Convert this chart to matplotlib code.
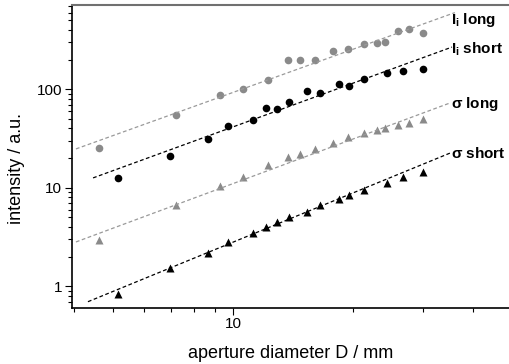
import numpy as np
import matplotlib.pyplot as plt

plt.rcParams['font.family'] = ['Liberation Sans', 'DejaVu Sans']
plt.rcParams['mathtext.fontset'] = 'custom'
plt.rcParams['mathtext.rm'] = 'Liberation Sans'
plt.rcParams['mathtext.bf'] = 'Liberation Sans:bold'

# aperture diameters (mm)
d_long = [4.62, 7.18, 9.28, 10.61, 12.26, 13.76, 14.72, 16.05, 17.84, 19.39,
          21.34, 22.93, 24.08, 25.87, 27.61, 29.99]
d_short = [5.16, 6.95, 8.64, 9.73, 11.24, 12.10, 12.91, 13.84, 15.30, 16.52,
           18.47, 19.56, 21.34, 24.28, 26.72, 29.99]

# intensities
Ii_long = [25.2, 54.8, 88.2, 101.4, 124.3, 198.4, 198.4, 198.4, 246.6, 256.6,
           288.4, 297.2, 300.0, 393.5, 406.5, 370.3]
Ii_short = [12.66, 20.9, 31.5, 42.4, 48.8, 64.1, 63.1, 73.8, 96.8, 91.1,
            112.4, 108.0, 128.1, 147.4, 153.4, 159.6]
sig_long = [2.95, 6.69, 10.4, 12.96, 17.04, 20.7, 22.0, 24.8, 28.3, 32.6,
            35.7, 38.6, 40.8, 43.4, 45.8, 49.6]
sig_short = [0.83, 1.52, 2.19, 2.82, 3.50, 4.03, 4.46, 5.09, 5.72, 6.69,
             7.70, 8.45, 9.50, 11.27, 12.96, 14.47]

# fit lines (end points)
fit_Ii_long = ([4.04, 36.0], [24.8, 600])
fit_Ii_short = ([4.46, 35.4], [12.6, 268])
fit_sig_long = ([4.04, 35.0], [2.82, 72.6])
fit_sig_short = ([4.33, 35.0], [0.698, 22.5])

labels = [r'$\mathbf{I_i}$ long', r'$\mathbf{I_i}$ short', r'$\mathbf{\sigma}$ long', r'$\mathbf{\sigma}$ short']
label_y = [460, 232, 64.1, 19.9]

gray = '#8a8a8a'

fig = plt.figure(figsize=(5.09, 3.64), dpi=100)
ax = fig.add_axes([0.1415, 0.1547, 0.8585, 0.8303])

ax.plot(d_long, Ii_long, 'o', color=gray, ms=5.5, mec='none')
ax.plot(d_short, Ii_short, 'o', color='black', ms=5.5, mec='none')
ax.plot(d_long, sig_long, '^', color=gray, ms=6, mec='none')
ax.plot(d_short, sig_short, '^', color='black', ms=6, mec='none')

dash = (0, (3, 2))
ax.plot(*fit_Ii_long, color='#9a9a9a', lw=0.9, ls=dash)
ax.plot(*fit_Ii_short, color='black', lw=0.9, ls=dash)
ax.plot(*fit_sig_long, color='#9a9a9a', lw=0.9, ls=dash)
ax.plot(*fit_sig_short, color='black', lw=0.9, ls=dash)

for lab, yv in zip(labels, label_y):
    ax.text(35.3, yv, lab, fontsize=11, fontweight='bold', ha='left', va='baseline')

ax.set_xscale('log')
ax.set_yscale('log')
ax.set_xlim(3.95, 49.2)
ax.set_ylim(0.607, 709)

ax.set_xticks([10])
ax.set_xticklabels(['10'])
ax.set_yticks([1, 10, 100])
ax.set_yticklabels(['1', '10', '100'])
ax.tick_params(which='major', direction='out', length=5, width=0.8, labelsize=11, pad=2)
ax.tick_params(which='minor', direction='out', length=3, width=0.8)

ax.spines['right'].set_visible(False)
ax.spines['top'].set_color('#707070')
ax.spines['top'].set_linewidth(1.5)
ax.spines['left'].set_linewidth(1.2)
ax.spines['bottom'].set_linewidth(1.2)

ax.set_xlabel('aperture diameter D / mm', fontsize=13)
ax.set_ylabel('intensity / a.u.', fontsize=13)
ax.xaxis.set_label_coords(0.5, -0.125)
ax.yaxis.set_label_coords(-0.107, 0.46)

plt.savefig('out.png', dpi=100)
